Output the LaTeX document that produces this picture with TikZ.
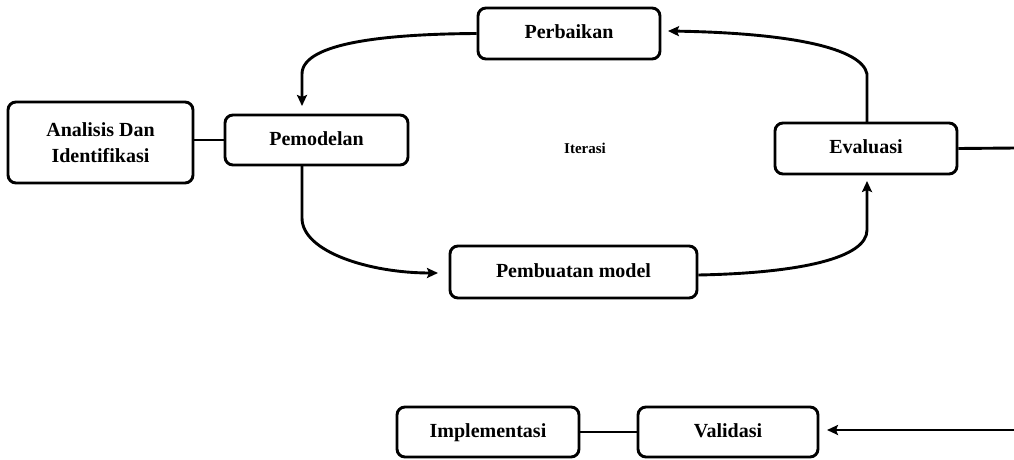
\documentclass[tikz,border=0pt]{standalone}
\usepackage{fontspec}
\setmainfont{Liberation Serif}
\usetikzlibrary{arrows.meta}
\begin{document}
\begin{tikzpicture}[x=1pt,y=1pt,
  box/.style={draw=black, line width=2.9pt, rounded corners=8pt, fill=white,
    font=\fontsize{20}{26}\selectfont\bfseries, align=center, inner sep=0pt},
  one/.style={text height=14pt, text depth=4pt},
  conn/.style={draw=black, line width=2.9pt},
  arr/.style={conn, -{Stealth[length=11pt,width=10pt,inset=2pt]}}
]
\useasboundingbox (0,0) rectangle (1014,-460);
\node[box, minimum width=185pt, minimum height=81pt] (ana) at (100.5,-142.5) {Analisis Dan\\Identifikasi};
\node[box, one, minimum width=183pt, minimum height=50pt] (pem) at (316.5,-140) {Pemodelan};
\node[box, one, minimum width=182pt, minimum height=51pt] (per) at (569,-33.5) {Perbaikan};
\node[box, one, minimum width=182pt, minimum height=51pt] (eva) at (866,-148.5) {Evaluasi};
\node[box, one, minimum width=247pt, minimum height=52pt] (pmb) at (573.5,-272) {Pembuatan model};
\node[box, one, minimum width=182pt, minimum height=50pt] (imp) at (488,-432) {Implementasi};
\node[box, one, minimum width=180pt, minimum height=50pt] (val) at (728,-432) {Validasi};
\node[font=\fontsize{15}{18}\selectfont\bfseries] (ite) at (585,-148) {Iterasi};

\coordinate (pemtop) at (302,-106);
\coordinate (pembot) at (302,-165);
\coordinate (pmbleft) at (438,-273);
\coordinate (evabot) at (867,-181);
\coordinate (evatop) at (867,-123);
\coordinate (perright) at (668,-31);
\coordinate (edgeA) at (1016,-148);
\coordinate (edgeB) at (1016,-430);
\coordinate (valright) at (827,-430);

\draw[conn] (ana.east |- pem.west) -- (pem.west);
\draw[arr] (per.west) .. controls (390,-34) and (302,-42) .. (302,-74) -- (pemtop);
\draw[arr] (pembot) -- (302,-218) .. controls (302,-252) and (370,-273) .. (pmbleft);
\draw[arr] (pmb.east |- 0,-275) .. controls (800,-273) and (867,-258) .. (867,-230) -- (evabot);
\draw[arr] (evatop) -- (867,-74) .. controls (862,-48) and (790,-33) .. (perright);
\draw[conn] (eva.east) -- (edgeA);
\draw[arr] (edgeB) -- (valright);
\draw[conn] (imp.east) -- (val.west);
\end{tikzpicture}
\end{document}
